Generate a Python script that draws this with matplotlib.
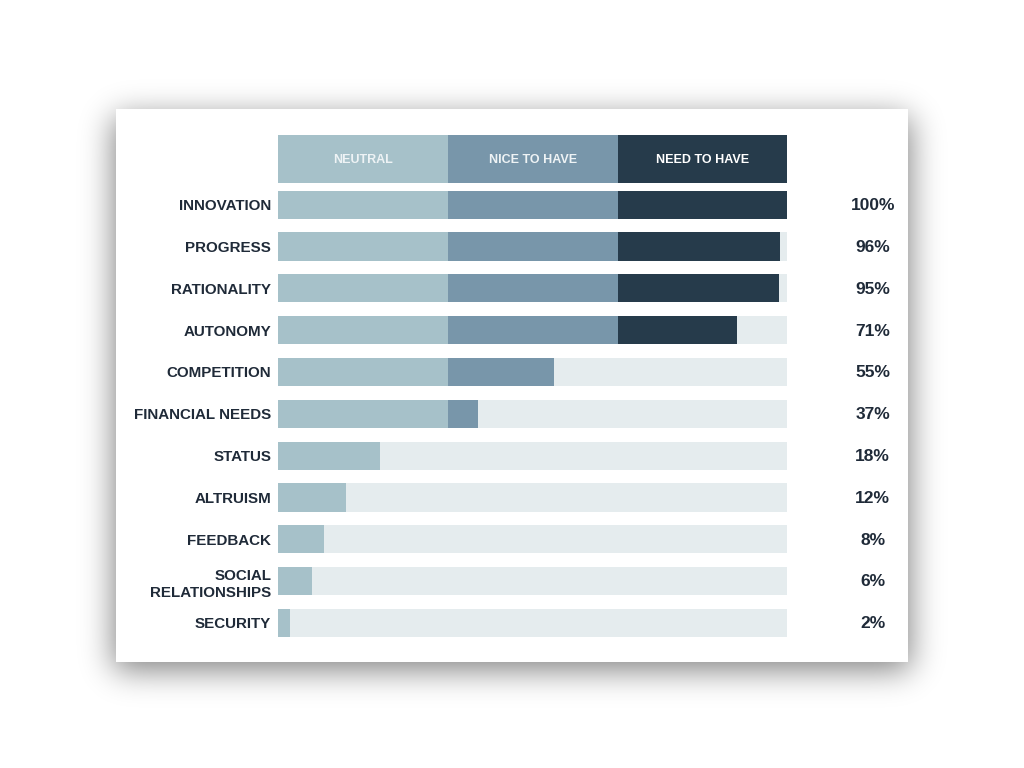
import numpy as np
import matplotlib
matplotlib.use("Agg")
import matplotlib.pyplot as plt
from matplotlib.patches import Rectangle

# ---------------- data ----------------
categories = ["INNOVATION", "PROGRESS", "RATIONALITY", "AUTONOMY", "COMPETITION",
              "FINANCIAL NEEDS", "STATUS", "ALTRUISM", "FEEDBACK",
              "SOCIAL\nRELATIONSHIPS", "SECURITY"]
percent_labels = [100, 96, 95, 71, 55, 37, 18, 12, 8, 6, 2]
bar_lengths = [100, 98.6, 98.4, 90.2, 54.2, 39.2, 20.0, 13.3, 9.0, 6.6, 2.3]
segments = ["NEUTRAL", "NICE TO HAVE", "NEED TO HAVE"]
segment_bounds = [0, 33.4, 66.7, 100]

# ---------------- style ----------------
seg_colors = ["#a6c1c9", "#7896aa", "#263b4b"]
header_text_colors = ["#eef3f5", "#eef3f5", "#ffffff"]
track_color = "#e5ecee"
text_color = "#1f2a38"

W, H = 1024, 768
fig = plt.figure(figsize=(W / 100, H / 100), dpi=100)
fig.patch.set_facecolor("white")

# background axes (pixel coordinates) for card + shadow
bg = fig.add_axes([0, 0, 1, 1], zorder=0)
bg.set_xlim(0, W)
bg.set_ylim(H, 0)
bg.axis("off")

card_x0, card_y0, card_x1, card_y1 = 116, 109, 908, 662

def blur1d(a, sigma, axis):
    r = int(3 * sigma)
    k = np.exp(-0.5 * (np.arange(-r, r + 1) / sigma) ** 2)
    k /= k.sum()
    return np.apply_along_axis(lambda v: np.convolve(v, k, mode="same"), axis, a)

mask = np.zeros((H, W))
dy = 8
mask[card_y0 + dy:card_y1 + dy, card_x0 - 2:card_x1 + 2] = 1.0
sh = blur1d(blur1d(mask, 16, 0), 16, 1)
rgba = np.zeros((H, W, 4))
rgba[..., 3] = sh * 0.5
bg.imshow(rgba, extent=(0, W, H, 0), interpolation="bilinear", zorder=1)
bg.add_patch(Rectangle((card_x0, card_y0), card_x1 - card_x0, card_y1 - card_y0,
                       facecolor="white", edgecolor="none", zorder=2))

# ---------------- chart axes ----------------
left_px, right_px = 278.3, 787.3
top_px, bot_px = 135, 637
ax = fig.add_axes([left_px / W, 1 - bot_px / H, (right_px - left_px) / W,
                   (bot_px - top_px) / H], zorder=3)
ax.patch.set_alpha(0)

n = len(categories)
y = np.arange(n)
bar_h = 0.67
header_y = -1.092
header_h = 1.147

# header boxes
for i, name in enumerate(segments):
    lo, hi = segment_bounds[i], segment_bounds[i + 1]
    ax.barh(header_y, hi - lo, left=lo, height=header_h, color=seg_colors[i],
            linewidth=0)
    ax.text((lo + hi) / 2, header_y + 0.02, name, ha="center", va="center",
            color=header_text_colors[i], fontsize=9, fontweight="bold",
            family="Liberation Sans")

# tracks
ax.barh(y, [100] * n, height=bar_h, color=track_color, linewidth=0)

# segmented bars
for i in range(3):
    lo, hi = segment_bounds[i], segment_bounds[i + 1]
    widths = [min(max(v - lo, 0), hi - lo) for v in bar_lengths]
    ax.barh(y, widths, left=lo, height=bar_h, color=seg_colors[i], linewidth=0)

# percent labels
for yi, p in zip(y, percent_labels):
    ax.text(116.8, yi + 0.02, f"{p}%", ha="center", va="center", color=text_color,
            fontsize=12.5, fontweight="bold", family="Liberation Sans",
            clip_on=False)

ax.set_xlim(0, 100)
ax.set_ylim(n - 1 + bar_h / 2, header_y - header_h / 2)
ax.set_yticks(y)
ax.set_yticklabels(categories, fontsize=10.9, fontweight="bold",
                   family="Liberation Sans", color=text_color, linespacing=1.3)
ax.tick_params(axis="y", length=0, pad=5)
ax.set_xticks([])
for s in ax.spines.values():
    s.set_visible(False)

fig.savefig("out.png", dpi=100, facecolor="white")
